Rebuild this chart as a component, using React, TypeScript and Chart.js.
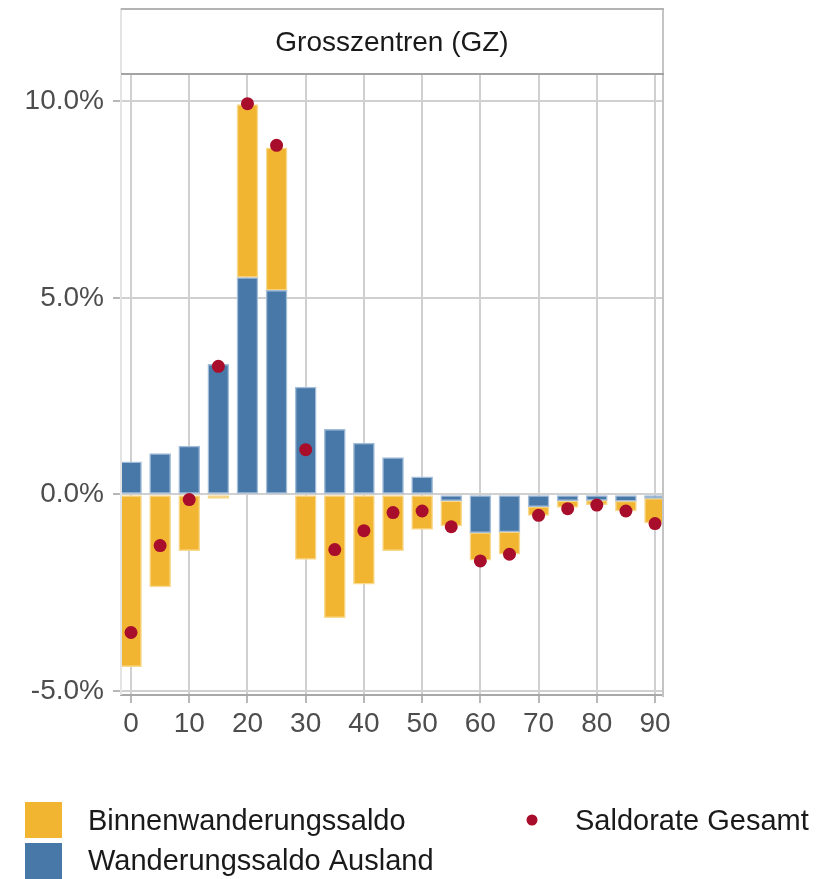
import React, { useEffect, useRef } from "react";
import { Chart, registerables } from "chart.js";

Chart.register(...registerables);

const ages = [0, 5, 10, 15, 20, 25, 30, 35, 40, 45, 50, 55, 60, 65, 70, 75, 80, 85, 90];
const ausland = [0.83, 1.04, 1.23, 3.31, 5.52, 5.19, 2.73, 1.66, 1.31, 0.94, 0.45, -0.16, -0.97, -0.95, -0.31, -0.16, -0.15, -0.17, -0.10];
const binnen = [-4.38, -2.35, -1.43, -0.10, 4.40, 3.63, -1.65, -3.13, -2.28, -1.43, -0.89, -0.64, -0.70, -0.57, -0.22, -0.17, -0.11, -0.25, -0.62];
const gesamt = [-3.51, -1.30, -0.13, 3.26, 9.94, 8.88, 1.14, -1.40, -0.92, -0.46, -0.42, -0.82, -1.69, -1.52, -0.53, -0.36, -0.27, -0.42, -0.74];
const xTicks = [0, 10, 20, 30, 40, 50, 60, 70, 80, 90];
const yTicks = [-5, 0, 5, 10];
const stripTitle = "Grosszentren (GZ)";
const legendBinnen = "Binnenwanderungssaldo";
const legendAusland = "Wanderungssaldo Ausland";
const legendGesamt = "Saldorate Gesamt";

const ORANGE = "#F1B532";
const ORANGE_EDGE = "#F8D98E";
const BLUE = "#4778A8";
const BLUE_EDGE = "#A3BDD8";
const RED = "#A80D2B";
const FONT = "'Liberation Sans', Arial, sans-serif";

const decorPlugin = {
  id: "decor",
  afterDraw(chart: any) {
    const ctx = chart.ctx;
    const a = chart.chartArea;
    ctx.save();
    // panel border right / left
    ctx.strokeStyle = "#c4c4c4";
    ctx.lineWidth = 2;
    ctx.beginPath();
    ctx.moveTo(a.right, a.top);
    ctx.lineTo(a.right, a.bottom + 2);
    ctx.stroke();
    ctx.strokeStyle = "#e4e4e4";
    ctx.beginPath();
    ctx.moveTo(a.left, a.top);
    ctx.lineTo(a.left, a.bottom);
    ctx.stroke();
    // strip
    const sTop = 8;
    const sBot = a.top - 1;
    ctx.fillStyle = "#ffffff";
    ctx.fillRect(a.left, sTop, a.right - a.left, sBot - sTop);
    ctx.strokeStyle = "#e4e4e4";
    ctx.beginPath();
    ctx.moveTo(a.left, sTop);
    ctx.lineTo(a.left, sBot);
    ctx.stroke();
    ctx.strokeStyle = "#c4c4c4";
    ctx.beginPath();
    ctx.moveTo(a.right, sTop);
    ctx.lineTo(a.right, sBot);
    ctx.stroke();
    ctx.strokeStyle = "#b3b3b3";
    ctx.beginPath();
    ctx.moveTo(a.left, sTop + 1);
    ctx.lineTo(a.right + 1, sTop + 1);
    ctx.stroke();
    ctx.strokeStyle = "#a3a3a3";
    ctx.beginPath();
    ctx.moveTo(a.left, sBot);
    ctx.lineTo(a.right + 1, sBot);
    ctx.stroke();
    ctx.fillStyle = "#1a1a1a";
    ctx.font = `28px ${FONT}`;
    ctx.textAlign = "center";
    ctx.textBaseline = "middle";
    ctx.fillText(stripTitle, (a.left + a.right) / 2, (sTop + sBot) / 2 + 2);
    // legend
    ctx.fillStyle = ORANGE;
    ctx.fillRect(25, 802, 37, 36);
    ctx.fillStyle = BLUE;
    ctx.fillRect(25, 843, 37, 36);
    ctx.fillStyle = RED;
    ctx.beginPath();
    ctx.arc(532, 820, 5.5, 0, Math.PI * 2);
    ctx.fill();
    ctx.fillStyle = "#1a1a1a";
    ctx.font = `29px ${FONT}`;
    ctx.textAlign = "left";
    ctx.textBaseline = "middle";
    ctx.fillText(legendBinnen, 88, 822);
    ctx.fillText(legendAusland, 88, 862);
    ctx.fillText(legendGesamt, 575, 822);
    ctx.restore();
  },
};

export default function App() {
  const ref = useRef<HTMLCanvasElement | null>(null);
  useEffect(() => {
    if (!ref.current) return;
    const chart = new Chart(ref.current, {
      type: "bar",
      data: {
        datasets: [
          {
            type: "bar",
            label: legendAusland,
            data: ages.map((x, i) => ({ x, y: ausland[i] })),
            backgroundColor: BLUE,
            borderColor: BLUE_EDGE,
            borderWidth: 1.5,
            borderSkipped: false,
            barThickness: 21,
            stack: "s",
            order: 2,
          } as any,
          {
            type: "bar",
            label: legendBinnen,
            data: ages.map((x, i) => ({ x, y: binnen[i] })),
            backgroundColor: ORANGE,
            borderColor: ORANGE_EDGE,
            borderWidth: 1.5,
            borderSkipped: false,
            barThickness: 21,
            stack: "s",
            order: 2,
          } as any,
          {
            type: "scatter",
            label: legendGesamt,
            data: ages.map((x, i) => ({ x, y: gesamt[i] })),
            backgroundColor: RED,
            borderColor: RED,
            pointRadius: 6.5,
            borderWidth: 0,
            stack: "p",
            order: 0,
          } as any,
        ],
      },
      options: {
        animation: false,
        responsive: false,
        maintainAspectRatio: false,
        events: [],
        layout: { padding: { left: 0, right: 162, top: 75, bottom: 144 } },
        plugins: { legend: { display: false }, tooltip: { enabled: false }, title: { display: false } },
        scales: {
          x: {
            type: "linear",
            stacked: true,
            offset: false,
            min: -1.72,
            max: 91.37,
            afterBuildTicks: (s: any) => {
              s.ticks = xTicks.map((v) => ({ value: v }));
            },
            afterFit: (s: any) => {
              s.height = 40;
            },
            ticks: {
              color: "#4d4d4d",
              font: { family: FONT, size: 28 },
              padding: 4,
              maxRotation: 0,
              autoSkip: false,
              callback: (v: any) => String(v),
            },
            grid: { offset: false, color: "#d0d0d0", lineWidth: 2, tickLength: 8, tickColor: "#b8b8b8", drawTicks: true },
            border: { display: true, color: "#a8a8a8", width: 2 },
          },
          y: {
            type: "linear",
            stacked: true,
            min: -5.1,
            max: 10.67,
            afterBuildTicks: (s: any) => {
              s.ticks = yTicks.map((v) => ({ value: v }));
            },
            afterFit: (s: any) => {
              s.width = 121;
            },
            ticks: {
              color: "#4d4d4d",
              font: { family: FONT, size: 28 },
              padding: 9,
              callback: (v: any) => Number(v).toFixed(1) + "%",
            },
            grid: { color: "#d0d0d0", lineWidth: 2, tickLength: 8, tickColor: "#b8b8b8", drawTicks: true },
            border: { display: false },
          },
        },
      },
      plugins: [decorPlugin],
    } as any);
    return () => chart.destroy();
  }, []);
  return (
    <div style={{ position: "fixed", left: 0, top: 0, width: 825, height: 879, background: "#fff" }}>
      <canvas ref={ref} width={825} height={879} style={{ width: 825, height: 879, display: "block" }} />
    </div>
  );
}
